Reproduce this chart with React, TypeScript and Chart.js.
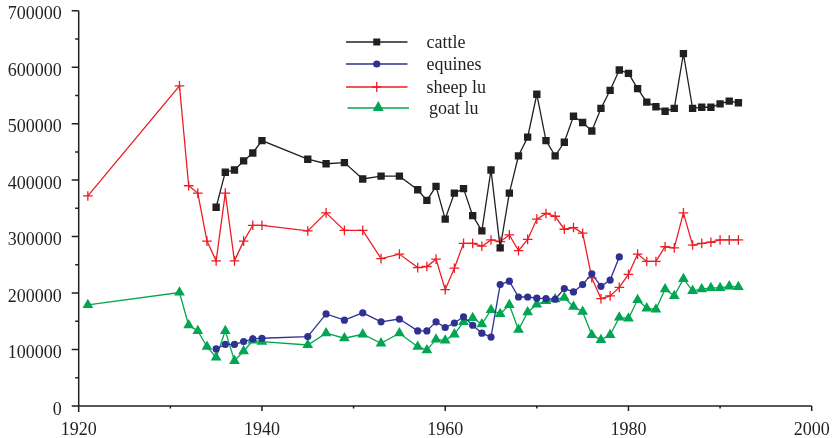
import React, { useEffect, useRef } from "react";
import { Chart, registerables } from "chart.js";
Chart.register(...registerables);

const cattleYears = [1935, 1936, 1937, 1938, 1939, 1940, 1945, 1947, 1949, 1951, 1953, 1955, 1957, 1958, 1959, 1960, 1961, 1962, 1963, 1964, 1965, 1966, 1967, 1968, 1969, 1970, 1971, 1972, 1973, 1974, 1975, 1976, 1977, 1978, 1979, 1980, 1981, 1982, 1983, 1984, 1985, 1986, 1987, 1988, 1989, 1990, 1991, 1992];
const cattleValues = [352000, 414000, 418000, 434000, 448000, 470000, 437000, 429000, 431000, 402000, 407000, 407000, 383000, 364000, 389000, 331000, 377000, 385000, 337000, 310000, 418000, 280000, 377000, 443000, 476000, 552000, 470000, 443000, 467000, 513000, 502000, 487000, 527000, 559000, 595000, 589000, 562000, 538000, 530000, 522000, 527000, 624000, 527000, 529000, 529000, 535000, 540000, 537000];

const equinesYears = [1935, 1936, 1937, 1938, 1939, 1940, 1945, 1947, 1949, 1951, 1953, 1955, 1957, 1958, 1959, 1960, 1961, 1962, 1963, 1964, 1965, 1966, 1967, 1968, 1969, 1970, 1971, 1972, 1973, 1974, 1975, 1976, 1977, 1978, 1979];
const equinesValues = [101000, 109000, 109000, 114000, 119000, 120000, 123000, 163000, 152000, 165000, 149000, 154000, 133000, 133000, 149000, 139000, 147000, 158000, 143000, 129000, 122000, 215000, 221000, 193000, 193000, 191000, 190000, 189000, 208000, 202000, 215000, 234000, 212000, 223000, 264000];

const sheepYears = [1921, 1931, 1932, 1933, 1934, 1935, 1936, 1937, 1938, 1939, 1940, 1945, 1947, 1949, 1951, 1953, 1955, 1957, 1958, 1959, 1960, 1961, 1962, 1963, 1964, 1965, 1966, 1967, 1968, 1969, 1970, 1971, 1972, 1973, 1974, 1975, 1976, 1977, 1978, 1979, 1980, 1981, 1982, 1983, 1984, 1985, 1986, 1987, 1988, 1989, 1990, 1991, 1992];
const sheepValues = [372000, 567000, 390000, 377000, 292000, 257000, 377000, 257000, 292000, 320000, 320000, 310000, 342000, 311000, 311000, 261000, 269000, 245000, 247000, 260000, 206000, 244000, 288000, 288000, 283000, 294000, 291000, 303000, 275000, 295000, 331000, 341000, 336000, 313000, 316000, 306000, 227000, 190000, 195000, 210000, 233000, 269000, 256000, 256000, 282000, 280000, 342000, 285000, 288000, 290000, 294000, 294000, 294000];

const goatYears = [1921, 1931, 1932, 1933, 1934, 1935, 1936, 1937, 1938, 1939, 1940, 1945, 1947, 1949, 1951, 1953, 1955, 1957, 1958, 1959, 1960, 1961, 1962, 1963, 1964, 1965, 1966, 1967, 1968, 1969, 1970, 1971, 1972, 1973, 1974, 1975, 1976, 1977, 1978, 1979, 1980, 1981, 1982, 1983, 1984, 1985, 1986, 1987, 1988, 1989, 1990, 1991, 1992];
const goatValues = [179000, 201000, 143000, 133000, 105000, 86000, 133000, 80000, 97000, 116000, 114000, 108000, 129000, 120000, 127000, 111000, 129000, 105000, 99000, 118000, 116000, 127000, 149000, 156000, 145000, 170000, 163000, 179000, 135000, 166000, 180000, 186000, 189000, 192000, 176000, 167000, 126000, 117000, 126000, 157000, 155000, 188000, 173000, 171000, 207000, 195000, 225000, 204000, 207000, 209000, 209000, 212000, 211000];

const seriesNames = ["cattle", "equines", "sheep lu", "goat lu"];
const seriesColors = ["#231f20", "#2e3192", "#ed1c24", "#00a651"];
const seriesMarkers = ["rect", "circle", "cross", "triangle"];

const xMin = 1920;
const xMax = 2000;
const yMax = 700000;

const FONT = "'Liberation Serif', 'Times New Roman', serif";
const INK = "#231f20";

function toPoints(xs: number[], ys: number[]) {
  return xs.map((x, i) => ({ x, y: ys[i] }));
}

function drawMarker(ctx: CanvasRenderingContext2D, style: string, x: number, y: number, color: string) {
  ctx.save();
  ctx.fillStyle = color;
  ctx.strokeStyle = color;
  ctx.beginPath();
  if (style === "rect") {
    ctx.rect(x - 3.5, y - 3.5, 7, 7);
    ctx.fill();
  } else if (style === "circle") {
    ctx.arc(x, y, 3.6, 0, Math.PI * 2);
    ctx.fill();
  } else if (style === "cross") {
    ctx.lineWidth = 1.3;
    ctx.moveTo(x - 4.5, y);
    ctx.lineTo(x + 4.5, y);
    ctx.moveTo(x, y - 5);
    ctx.lineTo(x, y + 5);
    ctx.stroke();
  } else if (style === "triangle") {
    ctx.moveTo(x, y - 7);
    ctx.lineTo(x + 5.5, y + 3);
    ctx.lineTo(x - 5.5, y + 3);
    ctx.closePath();
    ctx.fill();
  }
  ctx.restore();
}

const axesPlugin = {
  id: "customAxes",
  beforeDatasetsDraw(chart: any) {
    const ctx = chart.ctx as CanvasRenderingContext2D;
    const xs = chart.scales.x;
    const ys = chart.scales.y;
    const x0 = xs.getPixelForValue(xMin);
    const x1 = xs.getPixelForValue(xMax);
    const y0 = ys.getPixelForValue(0);
    const y1 = ys.getPixelForValue(yMax);
    ctx.save();
    ctx.strokeStyle = INK;
    ctx.lineWidth = 1.5;
    ctx.beginPath();
    ctx.moveTo(x0, y1);
    ctx.lineTo(x0, y0 + 6);
    ctx.moveTo(x0 - 6, y0);
    ctx.lineTo(x1, y0);
    for (let v = 0; v <= yMax; v += 50000) {
      const py = ys.getPixelForValue(v);
      const len = v % 100000 === 0 ? 7 : 3.5;
      ctx.moveTo(x0 - len, py);
      ctx.lineTo(x0, py);
    }
    for (let yr = xMin; yr <= xMax; yr += 10) {
      const px = xs.getPixelForValue(yr);
      const len = yr % 20 === 0 ? 5 : 2.5;
      ctx.moveTo(px, y0);
      ctx.lineTo(px, y0 + len);
    }
    ctx.stroke();
    ctx.restore();
  },
};

const legendPlugin = {
  id: "customLegend",
  afterDatasetsDraw(chart: any) {
    const ctx = chart.ctx as CanvasRenderingContext2D;
    const rows = [42, 64, 87, 108];
    ctx.save();
    seriesNames.forEach((name, i) => {
      const y = rows[i];
      const lx0 = i === 3 ? 347.5 : 346;
      const lx1 = i === 3 ? 409 : 407.5;
      ctx.strokeStyle = seriesColors[i];
      ctx.lineWidth = 1.4;
      ctx.beginPath();
      ctx.moveTo(lx0, y);
      ctx.lineTo(lx1, y);
      ctx.stroke();
      drawMarker(ctx, seriesMarkers[i], (lx0 + lx1) / 2, y, seriesColors[i]);
      ctx.fillStyle = INK;
      ctx.font = `18px ${FONT}`;
      ctx.textBaseline = "middle";
      ctx.textAlign = "left";
      ctx.fillText(name, i === 3 ? 429 : 426.5, y + 1);
    });
    ctx.restore();
  },
};

export default function App() {
  const canvasRef = useRef<HTMLCanvasElement | null>(null);

  useEffect(() => {
    document.body.style.margin = "0";
    const canvas = canvasRef.current;
    if (!canvas) return;
    const seriesData = [
      toPoints(cattleYears, cattleValues),
      toPoints(equinesYears, equinesValues),
      toPoints(sheepYears, sheepValues),
      toPoints(goatYears, goatValues),
    ];
    const radii = [5.2, 3.6, 4.8, 6.2];
    const borderWidths = [0, 0, 1.3, 0];
    const chart = new Chart(canvas, {
      type: "line",
      data: {
        datasets: seriesNames.map((name, i) => ({
          label: name,
          data: seriesData[i],
          borderColor: seriesColors[i],
          backgroundColor: seriesColors[i],
          borderWidth: 1.3,
          pointStyle: seriesMarkers[i] as any,
          pointRadius: radii[i],
          pointHoverRadius: radii[i],
          pointBorderWidth: borderWidths[i],
          pointBackgroundColor: seriesColors[i],
          pointBorderColor: seriesColors[i],
          tension: 0,
          fill: false,
        })),
      },
      options: {
        animation: false,
        responsive: false,
        maintainAspectRatio: false,
        layout: { padding: { top: 10.7, right: 20.3, left: 0, bottom: 0 } },
        plugins: {
          legend: { display: false },
          tooltip: { enabled: false },
          title: { display: false },
        },
        scales: {
          x: {
            type: "linear",
            min: xMin,
            max: xMax,
            grid: { display: false, drawTicks: false },
            border: { display: false },
            ticks: {
              stepSize: 20,
              padding: 13,
              color: INK,
              font: { family: FONT, size: 18 },
              maxRotation: 0,
              callback: (v: any) => String(v),
            },
            afterFit: (s: any) => {
              s.height = 32;
              s.paddingLeft = 0;
              s.paddingRight = 0;
              s.paddingTop = 0;
              s.paddingBottom = 0;
            },
          },
          y: {
            type: "linear",
            min: 0,
            max: yMax,
            grid: { display: false, drawTicks: false },
            border: { display: false },
            ticks: {
              stepSize: 100000,
              padding: 17,
              labelOffset: 4,
              color: INK,
              font: { family: FONT, size: 18 },
              callback: (v: any) => String(v),
            },
            afterFit: (s: any) => {
              s.width = 78.7;
              s.paddingLeft = 0;
              s.paddingRight = 0;
              s.paddingTop = 0;
              s.paddingBottom = 0;
            },
          },
        },
      },
      plugins: [axesPlugin, legendPlugin],
    });
    return () => chart.destroy();
  }, []);

  return (
    <div style={{ position: "absolute", left: 0, top: 0, width: 832, height: 438, background: "#fff" }}>
      <canvas ref={canvasRef} width={832} height={438} style={{ display: "block", width: 832, height: 438 }} />
    </div>
  );
}
